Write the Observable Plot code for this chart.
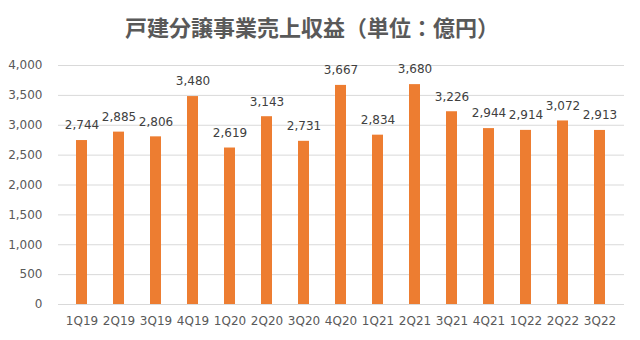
<!DOCTYPE html>
<html><head><meta charset="utf-8">
<script src="https://cdn.jsdelivr.net/npm/d3@7"></script>
<script src="https://cdn.jsdelivr.net/npm/@observablehq/plot@0.6"></script>
<style>
body{margin:0;background:#fff;}
#title{height:45px;line-height:52px;text-align:center;font-size:22px;font-weight:bold;color:#595959;font-family:"Noto Sans CJK JP",sans-serif;width:624px;overflow:visible;white-space:nowrap;}
</style></head><body>
<div id="title">戸建分譲事業売上収益（単位：億円）</div>
<div id="chart"></div>
<script>
const quarters = ["1Q19","2Q19","3Q19","4Q19","1Q20","2Q20","3Q20","4Q20","1Q21","2Q21","3Q21","4Q21","1Q22","2Q22","3Q22"];
const revenue = [2744,2885,2806,3480,2619,3143,2731,3667,2834,3680,3226,2944,2914,3072,2913];
const yTicks = [0,500,1000,1500,2000,2500,3000,3500,4000];
const data = quarters.map((q,i)=>({q, v: revenue[i]}));
const fmt = d3.format(",");
const chart = Plot.plot({
  width: 640, height: 295,
  marginTop: 20, marginBottom: 36, marginLeft: 58, marginRight: 16,
  style: {fontFamily: "DejaVu Sans, sans-serif", fontSize: "12px", color: "#595959", background: "#fff"},
  x: {domain: quarters, paddingInner: 0.69, paddingOuter: 0.345, label: null, tickSize: 0, tickPadding: 12},
  y: {domain: [0,4000], ticks: yTicks, tickFormat: fmt, label: null, tickSize: 0, tickPadding: 16},
  marks: [
    Plot.ruleY(yTicks, {stroke: "#d9d9d9", strokeWidth: 1}),
    Plot.barY(data, {x: "q", y: "v", fill: "#ED7D31"}),
    Plot.text(data, {x: "q", y: "v", text: d => fmt(d.v), dy: -15, fill: "#404040", fontSize: 12})
  ]
});
document.getElementById("chart").append(chart);
</script>
</body></html>
